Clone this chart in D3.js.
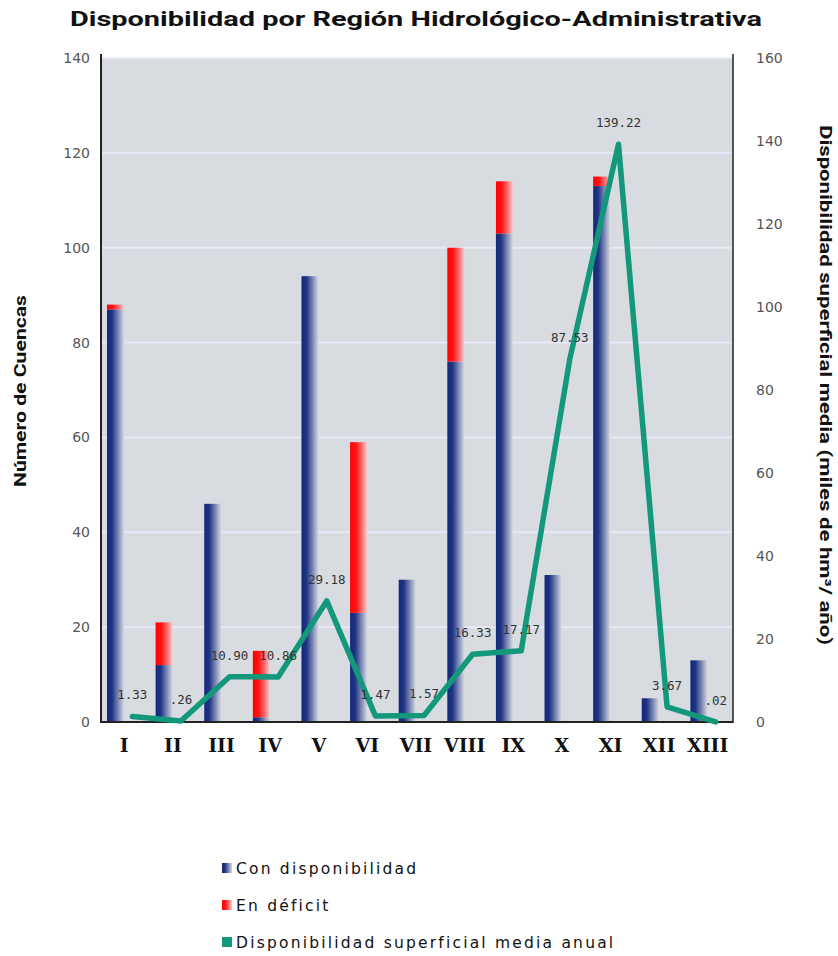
<!DOCTYPE html>
<html><head><meta charset="utf-8">
<script src="https://cdn.jsdelivr.net/npm/d3@7/dist/d3.min.js"></script>
<style>body{margin:0;background:#fff}svg{display:block}</style>
</head><body>
<svg id="chart" width="838" height="956"></svg>
<script>
const categories = ["I","II","III","IV","V","VI","VII","VIII","IX","X","XI","XII","XIII"];
const conDisponibilidad = [87,12,46,1,94,23,30,76,103,31,113,5,13];
const enDeficit = [1,9,0,14,0,36,0,24,11,0,2,0,0];
const dispSuperficial = [1.33,0.26,10.90,10.86,29.18,1.47,1.57,16.33,17.17,87.53,139.22,3.67,0.02];
const leftTicks = [0,20,40,60,80,100,120,140];
const rightTicks = [0,20,40,60,80,100,120,140,160];
const seriesNames = ["Con disponibilidad","En déficit","Disponibilidad superficial media anual"];

const svg = d3.select("#chart");
const X0 = 101, X1 = 733, Y0 = 58, Y1 = 722;
const x = d3.scaleBand().domain(categories).range([X0, X1]);
const yL = d3.scaleLinear().domain([0,140]).range([Y1, Y0]);
const yR = d3.scaleLinear().domain([0,160]).range([Y1, Y0]);

const defs = svg.append("defs");
const gb = defs.append("linearGradient").attr("id","gBlue");
[[0,"#14287a"],[0.3,"#1e3485"],[0.7,"#8791b8"],[1,"#d6d9e2"]].forEach(s=>gb.append("stop").attr("offset",s[0]).attr("stop-color",s[1]));
const gr = defs.append("linearGradient").attr("id","gRed");
[[0,"#ff0000"],[0.35,"#ff1515"],[0.7,"#fb6e70"],[1,"#f2d0d2"]].forEach(s=>gr.append("stop").attr("offset",s[0]).attr("stop-color",s[1]));

const titleFont = "Roboto, 'Open Sans', 'DejaVu Sans'";

// title
svg.append("text").attr("x",416).attr("y",26).attr("text-anchor","middle")
  .attr("font-family",titleFont).attr("font-weight","bold").attr("font-size",19.5)
  .attr("textLength",692).attr("lengthAdjust","spacingAndGlyphs").attr("fill","#111")
  .text("Disponibilidad por Región Hidrológico-Administrativa");

// plot background
svg.append("rect").attr("x",X0).attr("y",Y0).attr("width",X1-X0).attr("height",Y1-Y0).attr("fill","#d8dbdf");

// gridlines
svg.append("g").selectAll("line").data(leftTicks.filter(d=>d>0)).join("line")
  .attr("x1",X0).attr("x2",X1).attr("y1",d=>yL(d)).attr("y2",d=>yL(d))
  .attr("stroke","#e8e8f8").attr("stroke-width",2);

// bars
const bw = 17;
const gBars = svg.append("g");
gBars.selectAll("rect.blue").data(categories).join("rect").attr("class","blue")
  .attr("x",d=>x(d)+6).attr("width",bw)
  .attr("y",(d,i)=>yL(conDisponibilidad[i])).attr("height",(d,i)=>yL(0)-yL(conDisponibilidad[i]))
  .attr("fill","url(#gBlue)");
gBars.selectAll("rect.red").data(categories).join("rect").attr("class","red")
  .attr("x",d=>x(d)+6).attr("width",bw)
  .attr("y",(d,i)=>yL(conDisponibilidad[i]+enDeficit[i])).attr("height",(d,i)=>yL(conDisponibilidad[i])-yL(conDisponibilidad[i]+enDeficit[i]))
  .attr("fill","url(#gRed)");

// axes
const axL = svg.append("g").attr("transform",`translate(${X0},0)`)
  .call(d3.axisLeft(yL).tickValues(leftTicks).tickSize(0).tickPadding(11).tickFormat(d3.format("d")));
axL.select(".domain").remove();
const axR = svg.append("g").attr("transform",`translate(${X1},0)`)
  .call(d3.axisRight(yR).tickValues(rightTicks).tickSize(0).tickPadding(23).tickFormat(d3.format("d")));
axR.select(".domain").remove();
svg.selectAll(".tick text").attr("font-family","DejaVu Sans").attr("font-size",14).attr("fill","#555");

svg.append("line").attr("x1",X0).attr("x2",X0).attr("y1",Y0-4).attr("y2",Y1+1).attr("stroke","#222").attr("stroke-width",2);
svg.append("line").attr("x1",X1).attr("x2",X1).attr("y1",Y0-4).attr("y2",Y1+1).attr("stroke","#222").attr("stroke-width",1.5);
svg.append("line").attr("x1",X0).attr("x2",X1).attr("y1",Y1).attr("y2",Y1).attr("stroke","#222").attr("stroke-width",2);

// x labels
svg.append("g").selectAll("text").data(categories).join("text")
  .attr("x",d=>x(d)+x.bandwidth()/2-1).attr("y",752).attr("text-anchor","middle")
  .attr("font-family","DejaVu Serif").attr("font-weight","bold").attr("font-size",19).attr("fill","#111")
  .text(d=>d);

// line
const lx = d => x(d)+x.bandwidth()/2+7;
const line = d3.line().x((d,i)=>lx(categories[i])).y(d=>yR(d));
svg.append("path").datum(dispSuperficial).attr("d",line).attr("fill","none")
  .attr("stroke","#13987b").attr("stroke-width",5.5).attr("stroke-linejoin","round").attr("stroke-linecap","round");

// value labels
const fmt = v => { const s = d3.format(".2f")(v); return v < 1 ? s.replace(/^0/,"") : s; };
svg.append("g").selectAll("text").data(dispSuperficial).join("text")
  .attr("x",(d,i)=>lx(categories[i])).attr("y",d=>yR(d)-17).attr("text-anchor","middle")
  .attr("font-family","DejaVu Sans Mono").attr("font-size",12.5).attr("fill","#333")
  .text(fmt);

// axis titles
svg.append("text").attr("transform","translate(26,391) rotate(-90)").attr("text-anchor","middle")
  .attr("font-family",titleFont).attr("font-weight","bold").attr("font-size",16)
  .attr("textLength",192).attr("lengthAdjust","spacingAndGlyphs").attr("fill","#111")
  .text("Número de Cuencas");
svg.append("text").attr("transform","translate(820,385) rotate(90)").attr("text-anchor","middle")
  .attr("font-family",titleFont).attr("font-weight","bold").attr("font-size",16)
  .attr("textLength",520).attr("lengthAdjust","spacingAndGlyphs").attr("fill","#111")
  .text("Disponibilidad superficial media (miles de hm³/ año)");

// legend
const legFills = ["url(#gBlue)","url(#gRed)","#13987b"];
const leg = svg.append("g").selectAll("g").data(seriesNames).join("g")
  .attr("transform",(d,i)=>`translate(222,${868+i*37})`);
leg.append("rect").attr("x",0).attr("y",-5).attr("width",10).attr("height",10).attr("fill",(d,i)=>legFills[i]);
leg.append("text").attr("x",14).attr("y",5.5)
  .attr("font-family","DejaVu Sans").attr("font-size",15.5).attr("letter-spacing",2.2).attr("fill","#111")
  .text(d=>d);
</script>
</body></html>
